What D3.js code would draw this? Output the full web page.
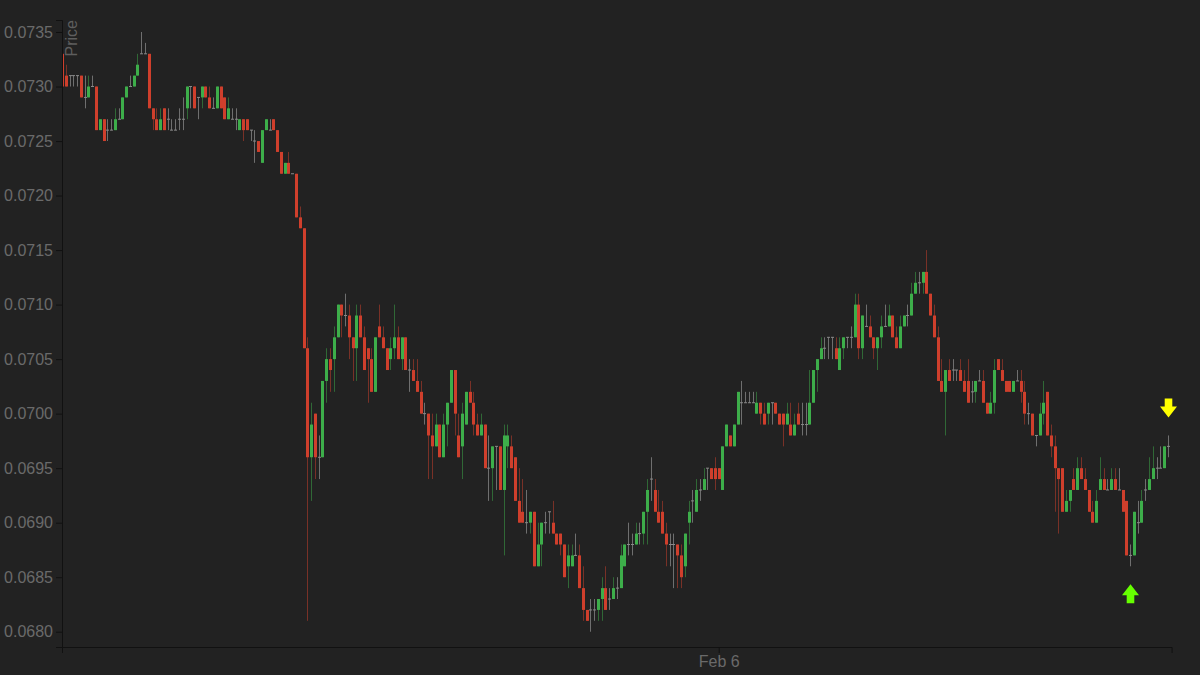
<!DOCTYPE html>
<html>
<head>
<meta charset="utf-8">
<script src="https://cdn.jsdelivr.net/npm/d3@7"></script>
<style>
html, body { margin: 0; padding: 0; background: #222222; }
svg { display: block; }
.axis text { fill: #6a6a6a; font-family: "Liberation Sans", Arial, sans-serif; font-size: 16px; }
.axis path, .axis line { stroke: #111111; }
</style>
</head>
<body>
<script>
// 5 minute candles, first one at 09:30 on Feb 5
var startTime = new Date(2024, 1, 5, 9, 30);

var open = [0.0733,0.0731,0.0731,0.0731,0.0731,0.0731,0.0729,0.0729,0.0730,0.0730,
0.0726,0.0727,0.0726,0.0726,0.0726,0.0727,0.0727,0.0729,0.0730,0.0730,
0.0731,0.0733,0.0733,0.0733,0.0728,0.0727,0.0726,0.0728,0.0727,0.0726,
0.0726,0.0727,0.0727,0.0728,0.0730,0.0730,0.0729,0.0729,0.0730,0.0729,
0.0728,0.0728,0.0730,0.0729,0.0727,0.0727,0.0727,0.0726,0.0727,0.0727,
0.0726,0.0725,0.0725,0.0723,0.0726,0.0726,0.0727,0.0726,0.0724,0.0722,
0.0723,0.0722,0.0722,0.0718,0.0717,0.0706,0.0696,0.0700,0.0696,0.0696,
0.0703,0.0705,0.0705,0.0707,0.0710,0.0709,0.0709,0.0707,0.0706,0.0709,
0.0707,0.0706,0.0705,0.0702,0.0708,0.0707,0.0706,0.0705,0.0706,0.0707,
0.0705,0.0707,0.0704,0.0704,0.0703,0.0702,0.0700,0.0700,0.0698,0.0697,
0.0699,0.0696,0.0699,0.0701,0.0704,0.0698,0.0697,0.0699,0.0702,0.0701,
0.0699,0.0698,0.0699,0.0695,0.0695,0.0697,0.0697,0.0693,0.0697,0.0697,
0.0696,0.0692,0.0691,0.0690,0.0690,0.0691,0.0686,0.0688,0.0690,0.0691,
0.0690,0.0689,0.0689,0.0688,0.0686,0.0686,0.0687,0.0687,0.0684,0.0682,
0.0682,0.0682,0.0682,0.0683,0.0684,0.0683,0.0683,0.0684,0.0684,0.0686,
0.0688,0.0688,0.0688,0.0689,0.0689,0.0691,0.0694,0.0693,0.0691,0.0691,
0.0689,0.0688,0.0688,0.0688,0.0687,0.0686,0.0690,0.0692,0.0691,0.0693,
0.0693,0.0695,0.0695,0.0695,0.0695,0.0693,0.0697,0.0698,0.0697,0.0699,
0.0701,0.0701,0.0701,0.0701,0.0700,0.0701,0.0700,0.0700,0.0701,0.0701,
0.0700,0.0700,0.0699,0.0699,0.0698,0.0700,0.0699,0.0699,0.0699,0.0701,
0.0704,0.0705,0.0706,0.0707,0.0707,0.0706,0.0704,0.0706,0.0707,0.0707,
0.0707,0.0710,0.0706,0.0708,0.0708,0.0707,0.0706,0.0707,0.0708,0.0708,
0.0709,0.0707,0.0706,0.0708,0.0709,0.0709,0.0711,0.0712,0.0712,0.0713,
0.0711,0.0709,0.0707,0.0703,0.0702,0.0704,0.0704,0.0704,0.0704,0.0703,
0.0703,0.0702,0.0702,0.0703,0.0703,0.0701,0.0700,0.0701,0.0705,0.0704,
0.0703,0.0703,0.0702,0.0703,0.0703,0.0702,0.0700,0.0700,0.0698,0.0698,
0.0700,0.0702,0.0698,0.0697,0.0695,0.0695,0.0691,0.0692,0.0694,0.0693,
0.0695,0.0694,0.0693,0.0691,0.0690,0.0693,0.0694,0.0693,0.0693,0.0694,
0.0693,0.0693,0.0692,0.0687,0.0687,0.0690,0.0690,0.0693,0.0693,0.0694,
0.0695,0.0695,0.0695,0.0697];

var high = [0.0733,0.0732,0.0731,0.0731,0.0731,0.0731,0.0731,0.0731,0.0731,0.0730,
0.0727,0.0727,0.0727,0.0727,0.0728,0.0728,0.0729,0.0730,0.0731,0.0731,
0.0733,0.0735,0.0734,0.0733,0.0728,0.0728,0.0728,0.0728,0.0728,0.0727,
0.0727,0.0728,0.0729,0.0730,0.0730,0.0730,0.0729,0.0730,0.0730,0.0730,
0.0729,0.0730,0.0730,0.0729,0.0729,0.0728,0.0728,0.0727,0.0727,0.0727,
0.0726,0.0726,0.0725,0.0726,0.0727,0.0727,0.0727,0.0726,0.0724,0.0723,
0.0724,0.0722,0.0722,0.0719,0.0717,0.0707,0.0701,0.0700,0.0698,0.0703,
0.0706,0.0706,0.0708,0.0710,0.0710,0.0711,0.0710,0.0707,0.0710,0.0710,
0.0708,0.0706,0.0706,0.0707,0.0710,0.0708,0.0706,0.0707,0.0710,0.0708,
0.0707,0.0707,0.0705,0.0705,0.0705,0.0703,0.0701,0.0700,0.0700,0.0700,
0.0699,0.0700,0.0701,0.0704,0.0704,0.0700,0.0701,0.0702,0.0703,0.0702,
0.0700,0.0700,0.0699,0.0698,0.0697,0.0697,0.0697,0.0699,0.0699,0.0698,
0.0696,0.0695,0.0694,0.0693,0.0691,0.0691,0.0690,0.0690,0.0691,0.0691,
0.0692,0.0689,0.0689,0.0688,0.0688,0.0688,0.0689,0.0688,0.0686,0.0682,
0.0683,0.0683,0.0683,0.0685,0.0686,0.0684,0.0685,0.0685,0.0688,0.0688,
0.0690,0.0689,0.0690,0.0690,0.0691,0.0694,0.0696,0.0694,0.0693,0.0692,
0.0690,0.0689,0.0689,0.0688,0.0688,0.0689,0.0692,0.0693,0.0694,0.0694,
0.0695,0.0695,0.0695,0.0696,0.0695,0.0697,0.0699,0.0698,0.0699,0.0702,
0.0703,0.0702,0.0702,0.0702,0.0702,0.0701,0.0701,0.0701,0.0701,0.0701,
0.0700,0.0700,0.0701,0.0701,0.0700,0.0701,0.0701,0.0701,0.0704,0.0704,
0.0705,0.0707,0.0707,0.0707,0.0707,0.0707,0.0707,0.0707,0.0707,0.0708,
0.0711,0.0711,0.0709,0.0710,0.0709,0.0707,0.0707,0.0709,0.0710,0.0710,
0.0709,0.0708,0.0709,0.0709,0.0710,0.0712,0.0713,0.0713,0.0713,0.0715,
0.0711,0.0710,0.0708,0.0705,0.0704,0.0705,0.0705,0.0704,0.0705,0.0704,
0.0705,0.0703,0.0703,0.0704,0.0704,0.0701,0.0702,0.0705,0.0705,0.0705,
0.0703,0.0703,0.0703,0.0704,0.0704,0.0703,0.0701,0.0700,0.0698,0.0701,
0.0703,0.0702,0.0699,0.0698,0.0695,0.0695,0.0693,0.0693,0.0695,0.0696,
0.0696,0.0695,0.0693,0.0692,0.0693,0.0696,0.0695,0.0694,0.0695,0.0695,
0.0695,0.0693,0.0692,0.0688,0.0691,0.0692,0.0693,0.0694,0.0696,0.0697,
0.0696,0.0697,0.0697,0.0698];

var low = [0.0730,0.0730,0.0730,0.0730,0.0730,0.0729,0.0728,0.0729,0.0730,0.0726,
0.0726,0.0725,0.0725,0.0726,0.0726,0.0727,0.0727,0.0729,0.0730,0.0730,
0.0731,0.0733,0.0733,0.0728,0.0726,0.0726,0.0726,0.0726,0.0726,0.0726,
0.0726,0.0726,0.0726,0.0727,0.0728,0.0728,0.0727,0.0728,0.0729,0.0728,
0.0728,0.0728,0.0728,0.0727,0.0727,0.0727,0.0726,0.0726,0.0725,0.0726,
0.0725,0.0723,0.0724,0.0723,0.0726,0.0726,0.0726,0.0724,0.0722,0.0722,
0.0722,0.0722,0.0718,0.0717,0.0706,0.0681,0.0692,0.0694,0.0694,0.0696,
0.0701,0.0702,0.0702,0.0707,0.0707,0.0708,0.0705,0.0703,0.0703,0.0707,
0.0704,0.0701,0.0702,0.0702,0.0707,0.0706,0.0704,0.0704,0.0705,0.0705,
0.0704,0.0704,0.0702,0.0703,0.0702,0.0700,0.0699,0.0694,0.0694,0.0697,
0.0696,0.0696,0.0697,0.0701,0.0698,0.0696,0.0694,0.0699,0.0701,0.0698,
0.0698,0.0698,0.0695,0.0692,0.0692,0.0693,0.0693,0.0687,0.0695,0.0695,
0.0692,0.0690,0.0690,0.0689,0.0689,0.0686,0.0686,0.0686,0.0689,0.0689,
0.0689,0.0688,0.0687,0.0685,0.0684,0.0686,0.0687,0.0684,0.0681,0.0681,
0.0680,0.0681,0.0681,0.0681,0.0682,0.0682,0.0683,0.0683,0.0684,0.0686,
0.0687,0.0687,0.0688,0.0688,0.0688,0.0688,0.0692,0.0691,0.0690,0.0689,
0.0686,0.0686,0.0684,0.0684,0.0684,0.0685,0.0688,0.0690,0.0691,0.0692,
0.0693,0.0693,0.0694,0.0693,0.0694,0.0693,0.0697,0.0697,0.0697,0.0699,
0.0699,0.0701,0.0701,0.0701,0.0700,0.0699,0.0699,0.0699,0.0699,0.0700,
0.0699,0.0697,0.0699,0.0698,0.0698,0.0699,0.0698,0.0698,0.0699,0.0701,
0.0702,0.0705,0.0705,0.0705,0.0705,0.0705,0.0704,0.0705,0.0706,0.0706,
0.0707,0.0705,0.0705,0.0708,0.0707,0.0705,0.0704,0.0706,0.0708,0.0708,
0.0707,0.0706,0.0706,0.0708,0.0708,0.0709,0.0711,0.0711,0.0711,0.0711,
0.0709,0.0707,0.0703,0.0702,0.0698,0.0703,0.0703,0.0703,0.0703,0.0702,
0.0701,0.0701,0.0701,0.0703,0.0701,0.0700,0.0700,0.0700,0.0704,0.0703,
0.0702,0.0702,0.0702,0.0703,0.0701,0.0699,0.0699,0.0698,0.0697,0.0698,
0.0699,0.0698,0.0696,0.0691,0.0689,0.0691,0.0691,0.0691,0.0693,0.0693,
0.0694,0.0693,0.0691,0.0690,0.0690,0.0693,0.0693,0.0693,0.0693,0.0693,
0.0693,0.0691,0.0687,0.0686,0.0687,0.0689,0.0690,0.0692,0.0693,0.0694,
0.0694,0.0695,0.0695,0.0696];

var close = [0.0730,0.0730,0.0731,0.0731,0.0731,0.0729,0.0729,0.0730,0.0730,0.0726,
0.0727,0.0725,0.0726,0.0726,0.0727,0.0727,0.0729,0.0730,0.0730,0.0731,
0.0732,0.0733,0.0733,0.0728,0.0727,0.0726,0.0727,0.0726,0.0727,0.0726,
0.0726,0.0727,0.0727,0.0730,0.0730,0.0728,0.0729,0.0730,0.0729,0.0728,
0.0728,0.0730,0.0728,0.0727,0.0728,0.0727,0.0727,0.0727,0.0726,0.0726,
0.0726,0.0725,0.0724,0.0726,0.0727,0.0726,0.0726,0.0724,0.0722,0.0723,
0.0722,0.0722,0.0718,0.0717,0.0706,0.0696,0.0699,0.0696,0.0696,0.0703,
0.0705,0.0704,0.0707,0.0710,0.0709,0.0709,0.0707,0.0706,0.0709,0.0707,
0.0704,0.0705,0.0702,0.0707,0.0707,0.0706,0.0704,0.0706,0.0707,0.0705,
0.0707,0.0704,0.0704,0.0703,0.0702,0.0700,0.0700,0.0698,0.0697,0.0699,
0.0696,0.0699,0.0701,0.0704,0.0700,0.0696,0.0700,0.0702,0.0701,0.0699,
0.0698,0.0699,0.0695,0.0695,0.0697,0.0697,0.0693,0.0698,0.0698,0.0695,
0.0692,0.0690,0.0690,0.0690,0.0691,0.0686,0.0688,0.0690,0.0690,0.0691,
0.0689,0.0688,0.0688,0.0685,0.0687,0.0687,0.0687,0.0684,0.0682,0.0681,
0.0682,0.0682,0.0683,0.0684,0.0682,0.0683,0.0684,0.0684,0.0687,0.0688,
0.0688,0.0688,0.0689,0.0689,0.0691,0.0693,0.0694,0.0691,0.0690,0.0689,
0.0688,0.0688,0.0688,0.0687,0.0685,0.0689,0.0691,0.0692,0.0693,0.0693,
0.0694,0.0695,0.0694,0.0694,0.0694,0.0697,0.0699,0.0697,0.0699,0.0702,
0.0701,0.0701,0.0701,0.0701,0.0701,0.0700,0.0699,0.0701,0.0701,0.0700,
0.0699,0.0699,0.0700,0.0698,0.0699,0.0699,0.0699,0.0699,0.0701,0.0704,
0.0705,0.0706,0.0706,0.0707,0.0707,0.0705,0.0706,0.0707,0.0707,0.0707,
0.0710,0.0706,0.0709,0.0708,0.0707,0.0706,0.0707,0.0708,0.0708,0.0709,
0.0707,0.0706,0.0708,0.0709,0.0709,0.0711,0.0712,0.0712,0.0713,0.0711,
0.0709,0.0707,0.0703,0.0702,0.0704,0.0703,0.0704,0.0704,0.0703,0.0702,
0.0701,0.0702,0.0703,0.0703,0.0701,0.0700,0.0701,0.0704,0.0704,0.0703,
0.0702,0.0702,0.0703,0.0703,0.0702,0.0700,0.0700,0.0698,0.0698,0.0700,
0.0701,0.0698,0.0697,0.0695,0.0694,0.0691,0.0692,0.0693,0.0693,0.0695,
0.0694,0.0693,0.0691,0.0690,0.0692,0.0694,0.0693,0.0693,0.0694,0.0693,
0.0693,0.0691,0.0687,0.0687,0.0691,0.0690,0.0692,0.0693,0.0694,0.0695,
0.0695,0.0695,0.0697,0.0697];

var yTicks = [0.0680,0.0685,0.0690,0.0695,0.0700,0.0705,0.0710,0.0715,0.0720,0.0725,0.0730,0.0735];
var xTicks = [new Date(2024, 1, 6)];
var buyIdx = [283];   // green arrow under candle
var sellIdx = [293];  // yellow arrow over candle

var width = 1200, height = 675;
var mLeft = 62, mRight = 1172, mTop = 20, mBottom = 647;

var svg = d3.select("body").append("svg")
	.attr("width", width)
	.attr("height", height)
	.style("background", "#222222");

var times = open.map(function (d, i) { return d3.timeMinute.offset(startTime, 5 * i); });

var x = d3.scaleTime()
	.domain([startTime, d3.timeMinute.offset(startTime, 5 * open.length)])
	.range([mLeft, mRight - 0.4]);

var y = d3.scaleLinear()
	.domain([0.06786, 0.07361])
	.range([mBottom, mTop]);

var candles = open.map(function (o, i) {
	return {t: times[i], o: o, h: high[i], l: low[i], c: close[i]};
});

function colorOf(d) {
	if (d.c > d.o) return "#3dae4a";
	if (d.c < d.o) return "#cf3f2c";
	return "#8a8a8a";
}

svg.append("clipPath").attr("id", "plot")
	.append("rect")
	.attr("x", mLeft).attr("y", mTop)
	.attr("width", mRight - mLeft).attr("height", mBottom - mTop);

var plot = svg.append("g").attr("clip-path", "url(#plot)");
var bw = 3;

var g = plot.selectAll("g.candle")
	.data(candles)
	.enter().append("g")
	.attr("class", "candle");

// wicks
g.append("line")
	.attr("x1", function (d) { return Math.round(x(d.t)) + 0.5; })
	.attr("x2", function (d) { return Math.round(x(d.t)) + 0.5; })
	.attr("y1", function (d) { return y(d.h); })
	.attr("y2", function (d) { return y(d.l); })
	.attr("stroke", colorOf)
	.attr("stroke-opacity", function (d) { return d.c == d.o ? 0.75 : 0.5; })
	.attr("stroke-width", 1);

// bodies
g.append("rect")
	.attr("x", function (d) { return Math.round(x(d.t)) + 0.5 - bw / 2; })
	.attr("y", function (d) { return d.c == d.o ? y(d.o) - 0.5 : y(Math.max(d.o, d.c)); })
	.attr("width", bw)
	.attr("height", function (d) { return d.c == d.o ? 1 : Math.abs(y(d.o) - y(d.c)); })
	.attr("fill", colorOf);

// signal arrows
var upArrow = "M0,0L8.5,11L3.8,11L3.8,19L-3.8,19L-3.8,11L-8.5,11Z";
var downArrow = "M0,0L8.5,-11L3.8,-11L3.8,-19L-3.8,-19L-3.8,-11L-8.5,-11Z";

svg.selectAll("path.buy")
	.data(buyIdx)
	.enter().append("path")
	.attr("class", "buy")
	.attr("d", upArrow)
	.attr("fill", "#66ff00")
	.attr("transform", function (i) { return "translate(" + (Math.round(x(times[i])) + 0.5) + "," + (y(low[i]) + 18) + ")"; });

svg.selectAll("path.sell")
	.data(sellIdx)
	.enter().append("path")
	.attr("class", "sell")
	.attr("d", downArrow)
	.attr("fill", "#ffff00")
	.attr("transform", function (i) { return "translate(" + (Math.round(x(times[i])) + 0.5) + "," + (y(high[i]) - 18) + ")"; });

// axes
svg.append("g")
	.attr("class", "axis")
	.attr("transform", "translate(0," + mBottom + ")")
	.call(d3.axisBottom(x).tickValues(xTicks).tickFormat(d3.timeFormat("%b %-d")));

var yAxis = svg.append("g")
	.attr("class", "axis")
	.attr("transform", "translate(" + mLeft + ",0)")
	.call(d3.axisLeft(y).tickValues(yTicks).tickFormat(d3.format(".4f")));

yAxis.append("text")
	.attr("transform", "rotate(-90)")
	.attr("y", 4)
	.attr("dy", ".71em")
	.attr("x", -mTop)
	.style("text-anchor", "end")
	.style("fill", "#5e5e5e")
	.text("Price");
</script>
</body>
</html>
